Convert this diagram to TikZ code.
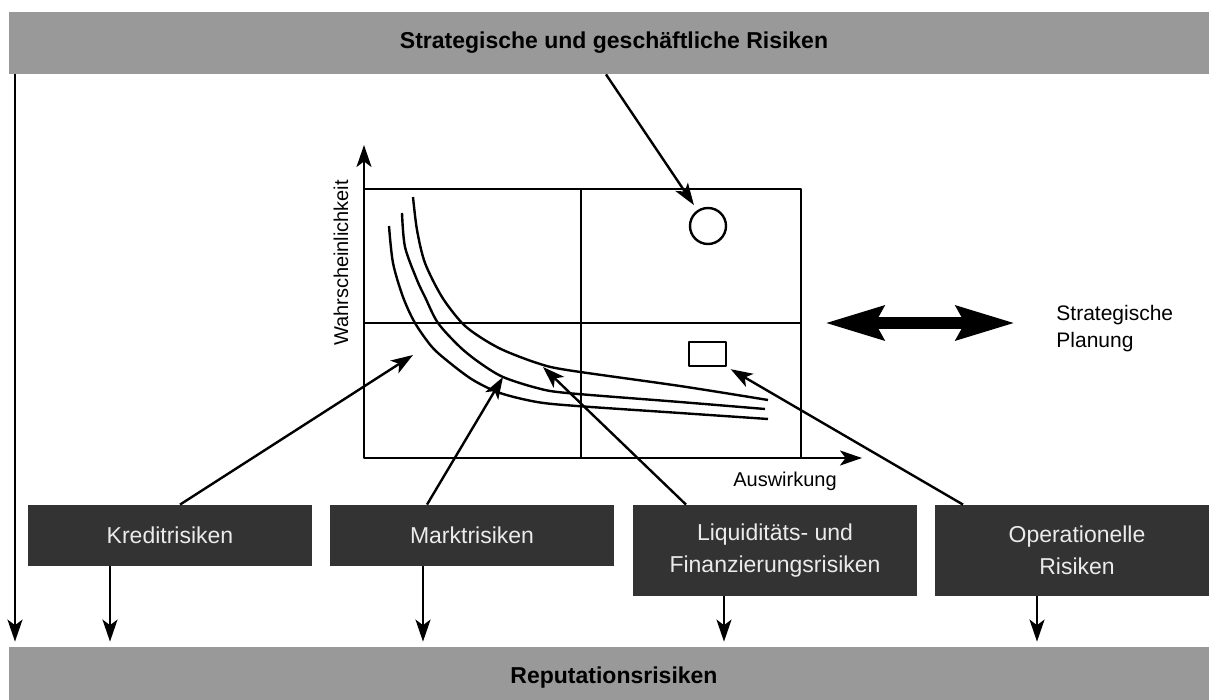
\documentclass[tikz,border=0pt]{standalone}
\usepackage{fontspec}
\setmainfont{Liberation Sans}
\usetikzlibrary{arrows.meta,calc}
\definecolor{barcol}{HTML}{999999}
\definecolor{boxcol}{HTML}{333333}

\begin{document}
\begin{tikzpicture}[x=0.5pt, y=-0.5pt, line join=round,
		pfeil/.style={line width=1.2pt, -{Stealth[length=11pt,width=7.5pt,inset=2.8pt]}},
		bar/.style={fill=barcol, minimum width=605pt, minimum height=31pt, inner sep=0pt, font=\fontsize{11.5}{14}\selectfont\bfseries},
		riskbox/.style={fill=boxcol, text=white!92!black, minimum width=142pt, inner sep=0pt, align=center, font=\fontsize{11.5}{16}\selectfont},
		lbl/.style={font=\fontsize{10}{12}\selectfont, inner sep=0pt}]
		\useasboundingbox (0,0) rectangle (1209,700);
		% Balken oben und unten
		\node[bar] (strat) at (614,43) {Strategische und geschäftliche Risiken};
		\node[bar] (rep) at (614,678) {Reputationsrisiken};
		% Risikoarten
		\node[riskbox, minimum height=30.5pt] (kredit) at (170,535.5) {Kreditrisiken};
		\node[riskbox, minimum height=30.5pt] (markt) at (472,535.5) {Marktrisiken};
		\node[riskbox, minimum height=45.5pt] (liqui) at (775,550.5) {Liquiditäts- und\\Finanzierungsrisiken};
		\node[riskbox, minimum height=45.5pt] (oprisk) at (1077,550.5) {Operationelle\\Risiken};
		% Matrix
		\draw[line width=1.2pt] (364,189) rectangle (801,458);
		\draw[line width=1.2pt] (581,189) -- (581,458) (364,323) -- (801,323);
		\draw[pfeil] (364,458) -- (364,145);
		\draw[pfeil] (364,458) -- (862,458);
		\node[lbl, rotate=90] (wahr) at (341,263) {Wahrscheinlichkeit};
		\node[lbl] (ausw) at (785,481) {Auswirkung};
		\begin{scope}[line width=1.2pt]
			\draw plot[smooth] coordinates {(389,226) (393,263) (403,297) (415,323) (432,347) (450,363) (473,380) (500,393) (537,402) (577,406) (680,413) (768,419)};
			\draw plot[smooth] coordinates {(402,213) (405,247) (417,280) (425,297) (438,323) (460,347) (480,363) (503,377) (537,388) (567,393) (680,402) (765,409)};
			\draw plot[smooth] coordinates {(413,197) (417,230) (425,263) (442,297) (462,323) (480,337) (503,350) (537,363) (567,370) (680,386) (768,400)};
		\end{scope}
		\node[circle, draw, line width=1.2pt, minimum size=18pt, inner sep=0pt] (kreis) at (708,226) {};
		\node[rectangle, draw, line width=1.2pt, minimum width=18.5pt, minimum height=12pt, inner sep=0pt] (rechteck) at (707.5,354) {};
		% Zielpunkte auf den Kurven
		\coordinate (c1) at (413,355);
		\coordinate (c2) at (503,377);
		\coordinate (c3) at (543,367);
		\draw[pfeil, shorten >=3pt] ($(strat.south)+(-8,0)$) -- (kreis);
		\draw[pfeil] ($(kredit.north)+(10,0)$) -- (c1);
		\draw[pfeil] ($(markt.north)+(-45,0)$) -- (c2);
		\draw[pfeil] ($(liqui.north)+(-89,0)$) -- (c3);
		\draw[pfeil, shorten >=2pt] ($(oprisk.north)+(-114,0)$) -- (rechteck.south east);
		% Strategische Planung
		\node[anchor=west, align=left, inner sep=0pt, font=\fontsize{10.5}{13.5}\selectfont] (plan) at (1056,329) {Strategische\\Planung};
		\coordinate (sl) at (825,323);
		\draw[line width=6pt, {Stealth[length=29pt,width=16.5pt,inset=4pt]}-{Stealth[length=29pt,width=16.5pt,inset=4pt]}, shorten >=20.5pt] (sl) -- (sl -| plan.west);
		% Pfeile nach unten
		\coordinate (x0) at (15,0);
		\coordinate (x1) at (110,0);
		\coordinate (x2) at (423,0);
		\coordinate (x3) at (724,0);
		\coordinate (x4) at (1037,0);
		\draw[pfeil, shorten >=2.5pt] (strat.south -| x0) -- (rep.north -| x0);
		\draw[pfeil, shorten >=2.5pt] (kredit.south -| x1) -- (rep.north -| x1);
		\draw[pfeil, shorten >=2.5pt] (markt.south -| x2) -- (rep.north -| x2);
		\draw[pfeil, shorten >=2.5pt] (liqui.south -| x3) -- (rep.north -| x3);
		\draw[pfeil, shorten >=2.5pt] (oprisk.south -| x4) -- (rep.north -| x4);
	\end{tikzpicture}
\end{document}
